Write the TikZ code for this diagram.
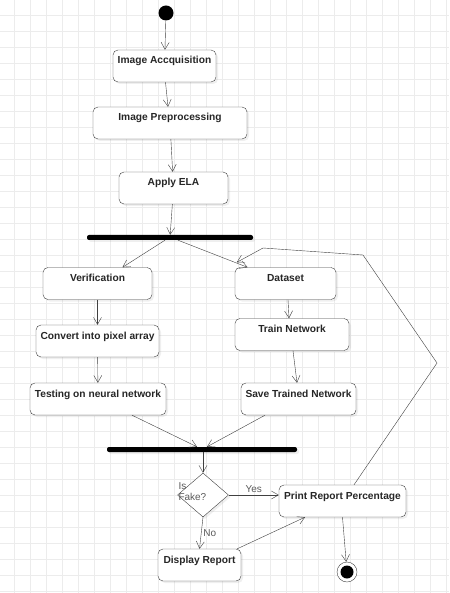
\documentclass[tikz,border=0pt]{standalone}
\usepackage{fontspec}
\setmainfont{Liberation Sans}
\usetikzlibrary{arrows.meta, shapes.geometric, shadows}

\definecolor{linegray}{RGB}{64,64,64}
\definecolor{textgray}{RGB}{90,90,90}
\definecolor{gridgray}{RGB}{236,236,236}

\begin{document}
\begin{tikzpicture}[
    x=1pt, y=-1pt,
    box/.style={draw=linegray, rounded corners=5pt, fill=white, minimum height=32pt, inner xsep=2pt, inner ysep=0pt, text height=14pt, text depth=18pt, font=\fontsize{10.2}{12}\selectfont\bfseries, text=black!85, drop shadow={shadow xshift=2pt, shadow yshift=-2pt, opacity=0.12}},
    bar/.style={fill=black, minimum height=5pt, inner sep=0pt, rounded corners=2pt, drop shadow={shadow xshift=2pt, shadow yshift=-2pt, opacity=0.12}},
    decision/.style={diamond, draw=linegray, fill=white, minimum width=51pt, minimum height=44pt, inner sep=0pt, drop shadow={shadow xshift=2pt, shadow yshift=-2pt, opacity=0.12}},
    arrow/.style={-{Straight Barb[length=7pt, width=8pt]}, draw=linegray},
    label/.style={font=\fontsize{10}{11}\selectfont, text=textgray, inner sep=2pt},
    gridline/.style={draw=gridgray, line width=0.8pt}
]
\useasboundingbox (0,0) rectangle (449,593);
\fill[white] (0,0) rectangle (449,593);
\foreach \gx in {0,...,27}
    \draw[gridline] ({14.7+16*\gx},0) -- ({14.7+16*\gx},593);
\foreach \gy in {0,...,36}
    \draw[gridline] (0,{15.3+16*\gy}) -- (449,{15.3+16*\gy});

\node[circle, fill=black, minimum size=15pt, inner sep=0pt] (start) at (166,13) {};
\node[box, minimum width=103pt] (acq) at (164.5,66) {Image Accquisition};
\node[box, minimum width=154pt] (pre) at (170,123) {Image Preprocessing};
\node[box, minimum width=109pt] (ela) at (173.5,188) {Apply ELA};
\node[bar, minimum width=166pt] (fork) at (170,237.5) {};

\node[box, minimum width=109pt] (verif) at (97.5,283.5) {Verification};
\node[box, minimum width=123pt] (pixel) at (97.5,341) {Convert into pixel array};
\node[box, minimum width=136pt] (test) at (98,399) {Testing on neural network};

\node[box, minimum width=101pt] (data) at (285.5,283.5) {Dataset};
\node[box, minimum width=114pt] (train) at (292,334.5) {Train Network};
\node[box, minimum width=115pt] (save) at (298.5,399) {Save Trained Network};

\node[bar, minimum width=190pt] (join) at (202,449.5) {};
\node[decision] (fake) at (203,495) {};
\node[label, align=left, anchor=west, inner sep=0pt] (faketxt) at ([xshift=1pt, yshift=3pt]fake.west) {Is\\Fake?};
\node[box, minimum width=127pt] (print) at (342.5,501) {Print Report Percentage};
\node[box, minimum width=83pt] (disp) at (199.5,565) {Display Report};
\node[circle, draw=linegray, fill=white, minimum size=20pt, inner sep=0pt] (end) at (347,572) {};
\node[circle, fill=black, minimum size=13pt, inner sep=0pt] (enddot) at (end) {};

\coordinate (loopA) at (437,363);
\coordinate (loopB) at (363,255);
\coordinate (loopC) at (263,248);

\draw[arrow] (start) -- (acq);
\draw[arrow] ([xshift=1pt]acq.south) -- ([xshift=-2pt]pre.north);
\draw[arrow] (pre) -- (ela);
\draw[arrow] (ela) -- (fork);
\draw[arrow] ([xshift=-5pt]fork.south) -- ([xshift=25pt]verif.north);
\draw[arrow] ([xshift=8pt]fork.south) -- ([xshift=-38pt]data.north);
\draw[arrow] (verif) -- (pixel);
\draw[arrow] (pixel) -- (test);
\draw[arrow] ([xshift=2.5pt]data.south) -- ([xshift=-3pt]train.north);
\draw[arrow] ([xshift=1pt]train.south) -- ([xshift=-1.5pt]save.north);
\draw[arrow] ([xshift=34pt]test.south) -- ([xshift=-5pt]join.north);
\draw[arrow] ([xshift=-33.5pt]save.south) -- ([xshift=5pt]join.north);
\draw[arrow] ([xshift=1pt]join.south) -- (fake.north);
\draw[arrow] (fake.east) -- (fake.east -| print.west) node[label, midway, above] (yes) {Yes};
\draw[arrow] (fake.south) -- (disp.north) node[label, midway, right] (no) {No};
\draw[arrow] ([xshift=-4pt]disp.north east) -- ([xshift=-37.5pt]print.south);
\draw[arrow] (print.south) -- (end);
\draw[arrow] ([xshift=11.5pt]print.north) -- (loopA) -- (loopB) -- (loopC) -- ([shift={(2,-5)}]data.north west);
\end{tikzpicture}
\end{document}
